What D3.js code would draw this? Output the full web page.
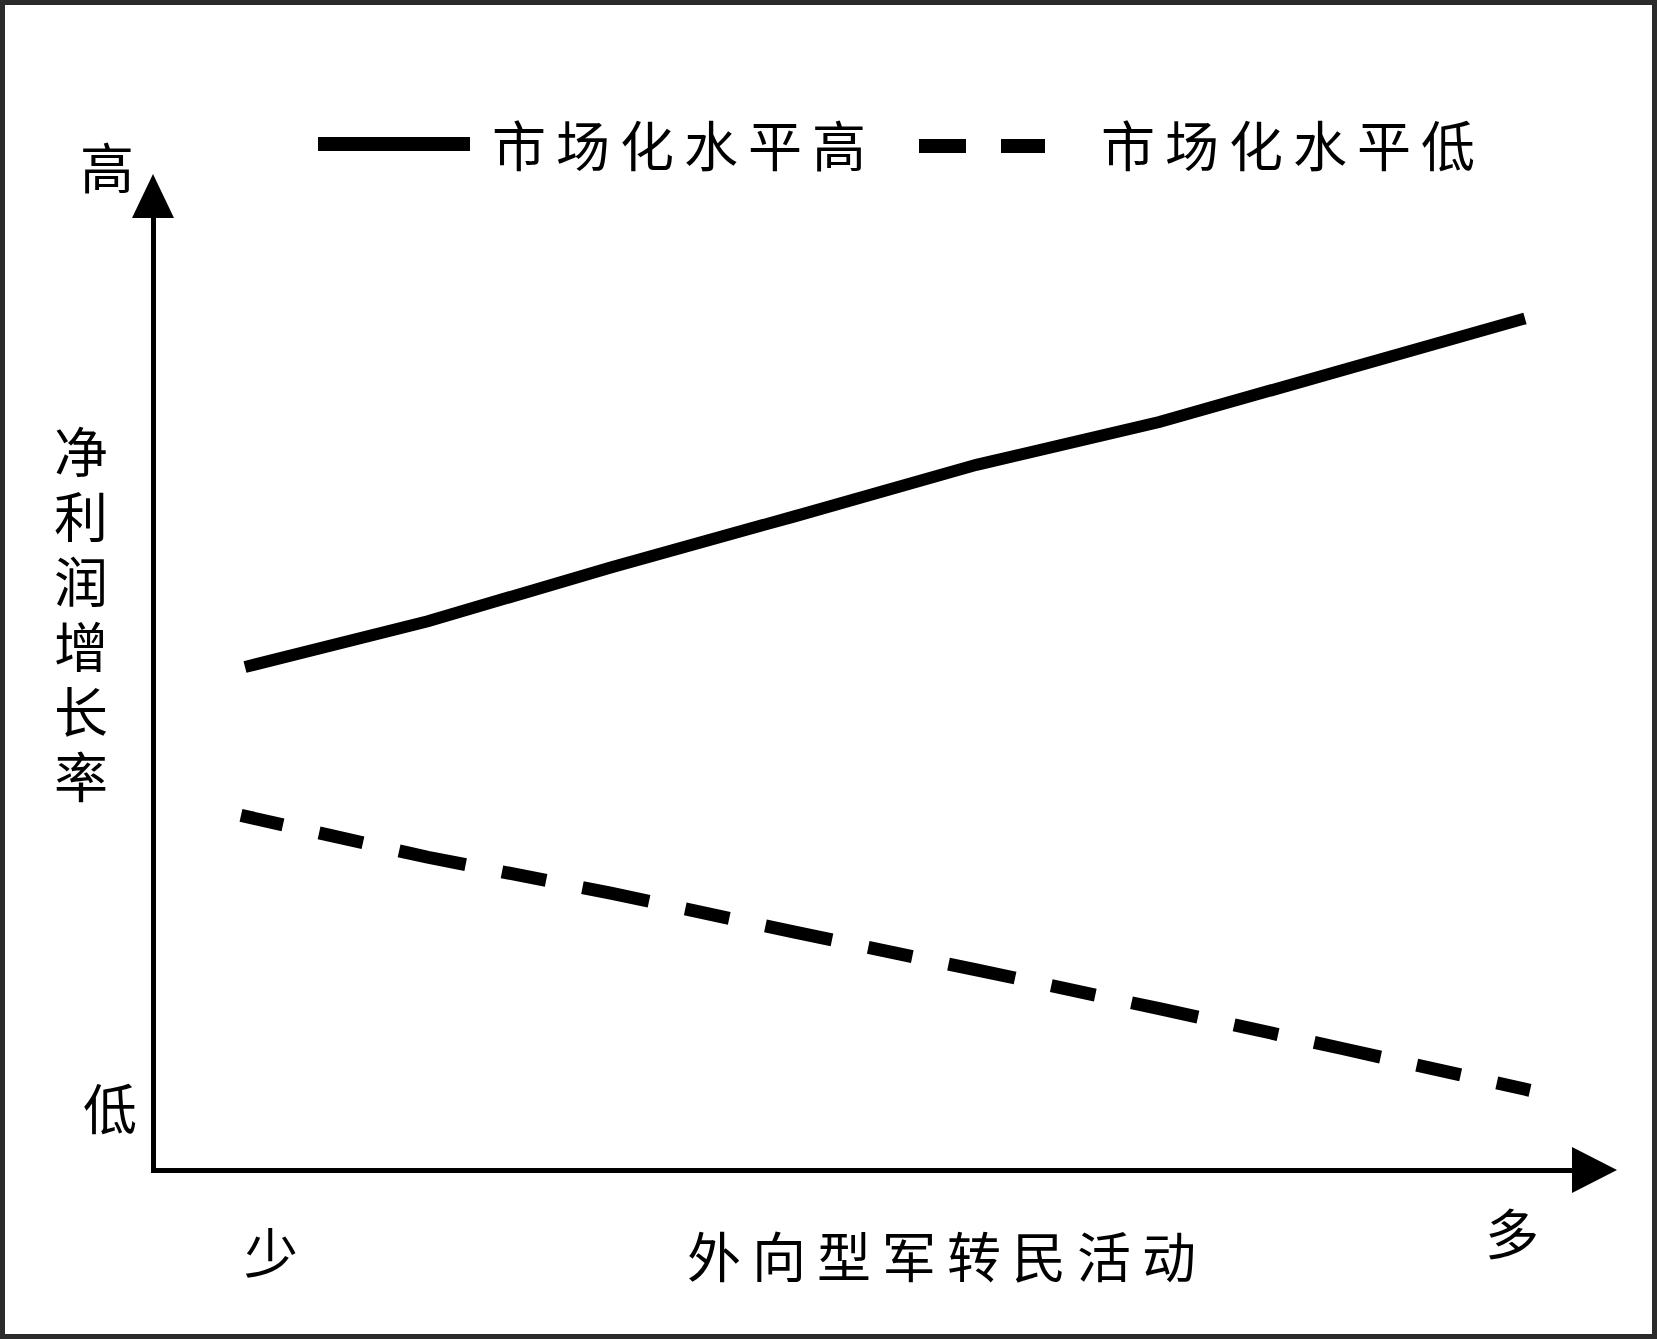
<!DOCTYPE html>
<html>
<head>
<meta charset="utf-8">
<script src="https://cdn.jsdelivr.net/npm/d3@7"></script>
<style>
  html, body { margin: 0; padding: 0; background: #fff; }
  svg { display: block; }
  text { font-family: "Noto Sans CJK SC", "Noto Sans", sans-serif; fill: #000; }
</style>
</head>
<body>
<script>
// ---- data ----
const xCategories = [1, 2, 3, 4, 5, 6, 7, 8];
const highMarket = [5.05, 5.51, 6.05, 6.56, 7.08, 7.51, 8.03, 8.55];
const lowMarket  = [3.56, 3.14, 2.78, 2.39, 2.01, 1.62, 1.22, 0.80];
const seriesNames = ["市场化水平高", "市场化水平低"];
const yTitle = "净利润增长率";
const xTitle = "外向型军转民活动";
const yEndLabels = ["低", "高"];
const xEndLabels = ["少", "多"];

// ---- layout ----
const W = 1657, H = 1339;
const originX = 153, originY = 1170;
const yTop = 174, xRight = 1617;
const dy = -4; // vertical nudge for CJK glyph centring

const svg = d3.select("body").append("svg")
  .attr("width", W).attr("height", H);

// frame
svg.append("rect")
  .attr("x", 2.5).attr("y", 2.5)
  .attr("width", W - 5).attr("height", H - 5)
  .attr("fill", "#fff").attr("stroke", "#2b2b2b").attr("stroke-width", 5);

const x = d3.scaleLinear().domain([1, 8]).range([245, 1525]);
const y = d3.scaleLinear().domain([0, 10]).range([originY, yTop]);

// axes (no ticks) as domain lines
const arrowLen = 44, arrowHalf = 22;
const yAxisScale = d3.scaleLinear().domain([0, 1]).range([originY + 2, yTop + arrowLen - 2]);
svg.append("g").attr("transform", `translate(${originX},0)`)
  .call(d3.axisLeft(yAxisScale).tickValues([]).tickSizeOuter(0));
const xAxisScale = d3.scaleLinear().domain([0, 1]).range([originX - 2.5, xRight - arrowLen + 2]);
svg.append("g").attr("transform", `translate(0,${originY})`)
  .call(d3.axisBottom(xAxisScale).tickValues([]).tickSizeOuter(0));
svg.selectAll(".domain").attr("stroke", "#000").attr("stroke-width", 5);

// arrowheads
svg.append("path")
  .attr("d", `M${originX},${yTop} L${originX - arrowHalf + 1},${yTop + arrowLen} L${originX + arrowHalf - 1},${yTop + arrowLen} Z`)
  .attr("fill", "#000");
svg.append("path")
  .attr("d", `M${xRight},${originY} L${xRight - arrowLen - 1},${originY - arrowHalf - 1} L${xRight - arrowLen - 1},${originY + arrowHalf + 1} Z`)
  .attr("fill", "#000");

// lines
const line = d3.line().x((d, i) => x(xCategories[i])).y(d => y(d));
svg.append("path").datum(highMarket)
  .attr("d", line).attr("fill", "none")
  .attr("stroke", "#000").attr("stroke-width", 12);
const lowLine = d3.line().x((d, i) => x(xCategories[i]) + (i === 0 ? -4 : i === xCategories.length - 1 ? 5 : 0)).y(d => y(d));
svg.append("path").datum(lowMarket)
  .attr("d", lowLine).attr("fill", "none")
  .attr("stroke", "#000").attr("stroke-width", 13)
  .attr("stroke-dasharray", "45 37 68 37")
  .attr("stroke-dashoffset", 107);

// legend
const fs = 54;
svg.append("line").attr("x1", 318).attr("x2", 470).attr("y1", 144).attr("y2", 144)
  .attr("stroke", "#000").attr("stroke-width", 14);
svg.append("text").attr("x", 492).attr("y", 147 + dy)
  .attr("dominant-baseline", "central")
  .style("font-size", fs + "px").style("letter-spacing", "10px")
  .text(seriesNames[0]);
svg.append("line").attr("x1", 919).attr("x2", 1045).attr("y1", 146).attr("y2", 146)
  .attr("stroke", "#000").attr("stroke-width", 14)
  .attr("stroke-dasharray", "47 35 44");
svg.append("text").attr("x", 1101).attr("y", 147 + dy)
  .attr("dominant-baseline", "central")
  .style("font-size", fs + "px").style("letter-spacing", "10px")
  .text(seriesNames[1]);

// axis end labels
svg.append("text").attr("x", 107).attr("y", 169 + dy)
  .attr("text-anchor", "middle").attr("dominant-baseline", "central")
  .style("font-size", fs + "px").text(yEndLabels[1]);
svg.append("text").attr("x", 110).attr("y", 1110 + dy)
  .attr("text-anchor", "middle").attr("dominant-baseline", "central")
  .style("font-size", fs + "px").text(yEndLabels[0]);
svg.append("text").attr("x", 271).attr("y", 1254 + dy)
  .attr("text-anchor", "middle").attr("dominant-baseline", "central")
  .style("font-size", fs + "px").text(xEndLabels[0]);
svg.append("text").attr("x", 1512).attr("y", 1235 + dy)
  .attr("text-anchor", "middle").attr("dominant-baseline", "central")
  .style("font-size", fs + "px").text(xEndLabels[1]);

// y title (vertical writing)
svg.append("text")
  .attr("x", 81).attr("y", 456 - fs / 2 + dy)
  .style("writing-mode", "vertical-rl")
  .style("text-orientation", "upright")
  .style("font-size", fs + "px")
  .style("letter-spacing", "11px")
  .text(yTitle);

// x title
svg.append("text").attr("x", 947).attr("y", 1258 + dy)
  .attr("text-anchor", "middle").attr("dominant-baseline", "central")
  .style("font-size", fs + "px").style("letter-spacing", "11px")
  .text(xTitle);
</script>
</body>
</html>
